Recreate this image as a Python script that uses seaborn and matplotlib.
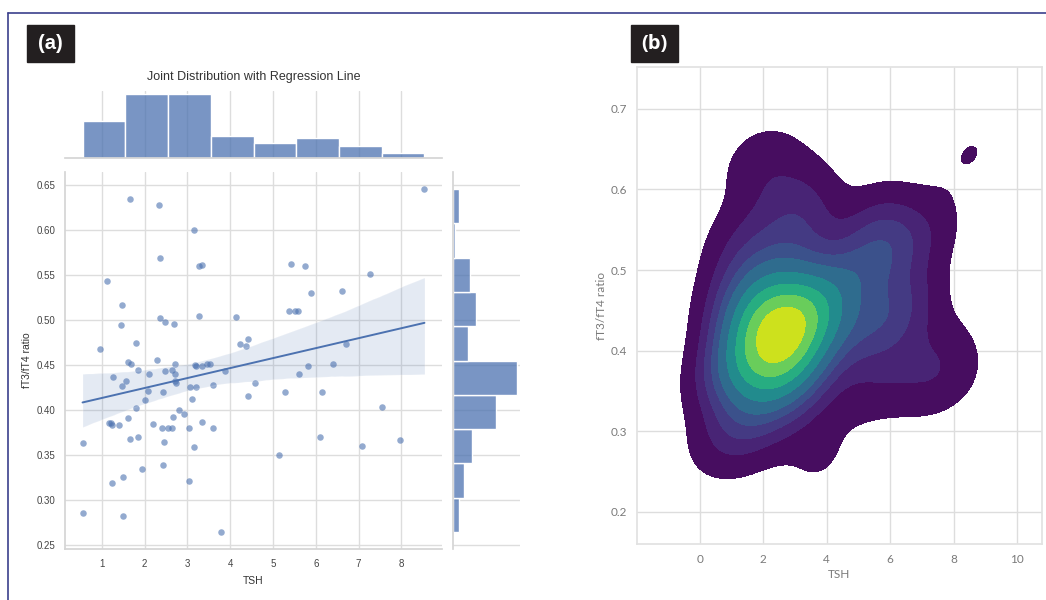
"""
TSH vs fT3/fT4 ratio: (a) joint plot with regression line, (b) 2D KDE
"""
import matplotlib
matplotlib.use('Agg')
import matplotlib.pyplot as plt
from matplotlib.lines import Line2D
from matplotlib.patches import Rectangle
import numpy as np
import seaborn as sns

# ==================== data ====================
tsh = [
    1.66, 2.33, 3.16, 2.36, 3.26, 3.33, 1.13, 1.47, 1.44, 2.36,
    2.47, 2.69, 3.26, 4.14, 0.96, 1.81, 4.24, 4.38, 4.41, 1.62,
    1.68, 2.28, 2.72, 3.17, 3.20, 3.35, 3.45, 3.52, 1.85, 1.26,
    2.10, 2.47, 2.65, 2.70, 3.88, 1.56, 1.47, 2.71, 2.73, 3.07,
    3.20, 3.60, 4.57, 2.07, 2.43, 2.00, 3.11, 4.41, 1.80, 2.80,
    2.93, 1.62, 2.67, 1.17, 1.22, 1.25, 1.41, 2.20, 2.40, 2.54,
    2.65, 3.03, 3.33, 3.61, 0.55, 1.66, 1.85, 2.46, 3.15, 1.50,
    1.23, 1.94, 2.43, 3.03, 0.55, 1.50, 3.79, 8.54, 5.43, 5.75,
    7.27, 5.89, 6.61, 5.38, 5.51, 5.58, 6.70, 6.41, 5.83, 5.60,
    5.28, 6.15, 7.54, 6.10, 7.07, 7.96, 5.13,
]
ratio = [
    0.635, 0.628, 0.600, 0.569, 0.561, 0.562, 0.544, 0.517, 0.495, 0.503,
    0.498, 0.496, 0.505, 0.504, 0.468, 0.475, 0.474, 0.472, 0.479, 0.454,
    0.452, 0.456, 0.452, 0.451, 0.449, 0.449, 0.452, 0.452, 0.445, 0.437,
    0.440, 0.444, 0.445, 0.440, 0.444, 0.433, 0.427, 0.433, 0.430, 0.426,
    0.426, 0.428, 0.430, 0.422, 0.420, 0.412, 0.413, 0.416, 0.403, 0.401,
    0.396, 0.392, 0.393, 0.386, 0.386, 0.384, 0.384, 0.385, 0.380, 0.380,
    0.381, 0.381, 0.387, 0.380, 0.364, 0.368, 0.371, 0.365, 0.359, 0.326,
    0.319, 0.335, 0.339, 0.322, 0.286, 0.283, 0.265, 0.646, 0.563, 0.560,
    0.552, 0.531, 0.533, 0.510, 0.510, 0.510, 0.474, 0.452, 0.449, 0.441,
    0.420, 0.421, 0.404, 0.370, 0.360, 0.367, 0.350,
]

x_ticks_a = [1, 2, 3, 4, 5, 6, 7, 8]
y_ticks_a = [0.25, 0.30, 0.35, 0.40, 0.45, 0.50, 0.55, 0.60, 0.65]
x_ticks_b = [0, 2, 4, 6, 8, 10]
y_ticks_b = [0.2, 0.3, 0.4, 0.5, 0.6, 0.7]

# ==================== style ====================
sns.set_theme(style='whitegrid')
plt.rcParams['font.family'] = ['Liberation Sans', 'DejaVu Sans']
plt.rcParams['grid.color'] = '#dddddd'
plt.rcParams['axes.edgecolor'] = '#d5d5d5'

W, H = 1046, 600
fig = plt.figure(figsize=(W / 100, H / 100), dpi=100)


def px_axes(x0, y0, x1, y1):
    # pixel box (top-left origin) -> figure axes
    return fig.add_axes([x0 / W, 1 - y1 / H, (x1 - x0) / W, (y1 - y0) / H])


# ---------- panel (a) ----------
ax = px_axes(65, 172, 442, 549)
ax_top = px_axes(65, 91, 442, 158)
ax_right = px_axes(453, 172, 520, 549)

sns.regplot(x=tsh, y=ratio, ax=ax, ci=95, seed=3,
            scatter_kws={'s': 22, 'alpha': 0.6, 'linewidths': 0},
            line_kws={'lw': 1.4})
ax.set_xticks(x_ticks_a)
ax.set_yticks(y_ticks_a)
ax.set_xlim(0.14, 8.95)
ax.set_ylim(0.246, 0.665)
ax.tick_params(labelsize=7, colors='#444444', length=0, pad=7)
ax.set_xlabel('TSH', fontsize=7.5, color='#333333', labelpad=5)
ax.set_ylabel('fT3/fT4 ratio', fontsize=7.5, color='#333333', labelpad=3)
sns.despine(ax=ax)

sns.histplot(x=tsh, bins=8, ax=ax_top, color='C0', edgecolor='white', linewidth=1)
ax_top.set_xlim(ax.get_xlim())
ax_top.set_xticks(x_ticks_a)
ax_top.set_xticklabels([])
ax_top.set_yticks([])
ax_top.set_xlabel('')
ax_top.set_ylabel('')
ax_top.yaxis.grid(False)
ax_top.tick_params(length=0)
sns.despine(ax=ax_top, left=True)
ax_top.set_title('Joint Distribution with Regression Line', fontsize=9, color='#333333', pad=8)

sns.histplot(y=ratio, bins=10, ax=ax_right, color='C0', edgecolor='white', linewidth=1)
ax_right.set_ylim(ax.get_ylim())
ax_right.set_yticks(y_ticks_a)
ax_right.set_yticklabels([])
ax_right.set_xticks([])
ax_right.set_xlabel('')
ax_right.set_ylabel('')
ax_right.xaxis.grid(False)
ax_right.tick_params(length=0)
sns.despine(ax=ax_right, bottom=True)

# ---------- panel (b) ----------
axk = px_axes(637, 67, 1042, 544)
sns.kdeplot(x=tsh, y=ratio, fill=True, cmap='viridis', levels=10, thresh=0.05, ax=axk)
axk.set_xlim(-1.97, 10.78)
axk.set_ylim(0.16, 0.752)
axk.set_xticks(x_ticks_b)
axk.set_yticks(y_ticks_b)
for lab in axk.get_xticklabels() + axk.get_yticklabels():
    lab.set_family(['Lato', 'DejaVu Sans'])
axk.tick_params(labelsize=8.5, colors='#7a7a7a', length=0, pad=7)
axk.set_xlabel('TSH', fontsize=8.5, color='#7a7a7a', family=['Lato', 'DejaVu Sans'], labelpad=3)
axk.set_ylabel('fT3/fT4 ratio', fontsize=8.5, color='#7a7a7a', family=['Lato', 'DejaVu Sans'], labelpad=3)
for s in axk.spines.values():
    s.set_color('#e2e2e2')

# ---------- frame and panel tags ----------
fig.add_artist(Line2D([8 / W, 1], [1 - 13 / H] * 2, transform=fig.transFigure,
                      color='#3b3f8c', lw=1.2))
fig.add_artist(Line2D([8 / W] * 2, [0, 1 - 13 / H], transform=fig.transFigure,
                      color='#3b3f8c', lw=1.2))

for tag, x0, fam in [('(a)', 27, 'Liberation Sans'), ('(b)', 631, 'Open Sans')]:
    fig.add_artist(Rectangle((x0 / W, 1 - 62 / H), 47 / W, 37 / H,
                             transform=fig.transFigure, color='#231f20'))
    fig.text((x0 + 23.5) / W, 1 - 43.5 / H, tag, color='white', fontsize=14.5,
             fontweight='bold', family=fam, ha='center', va='center')

fig.savefig('out.png', dpi=100)
plt.close('all')
